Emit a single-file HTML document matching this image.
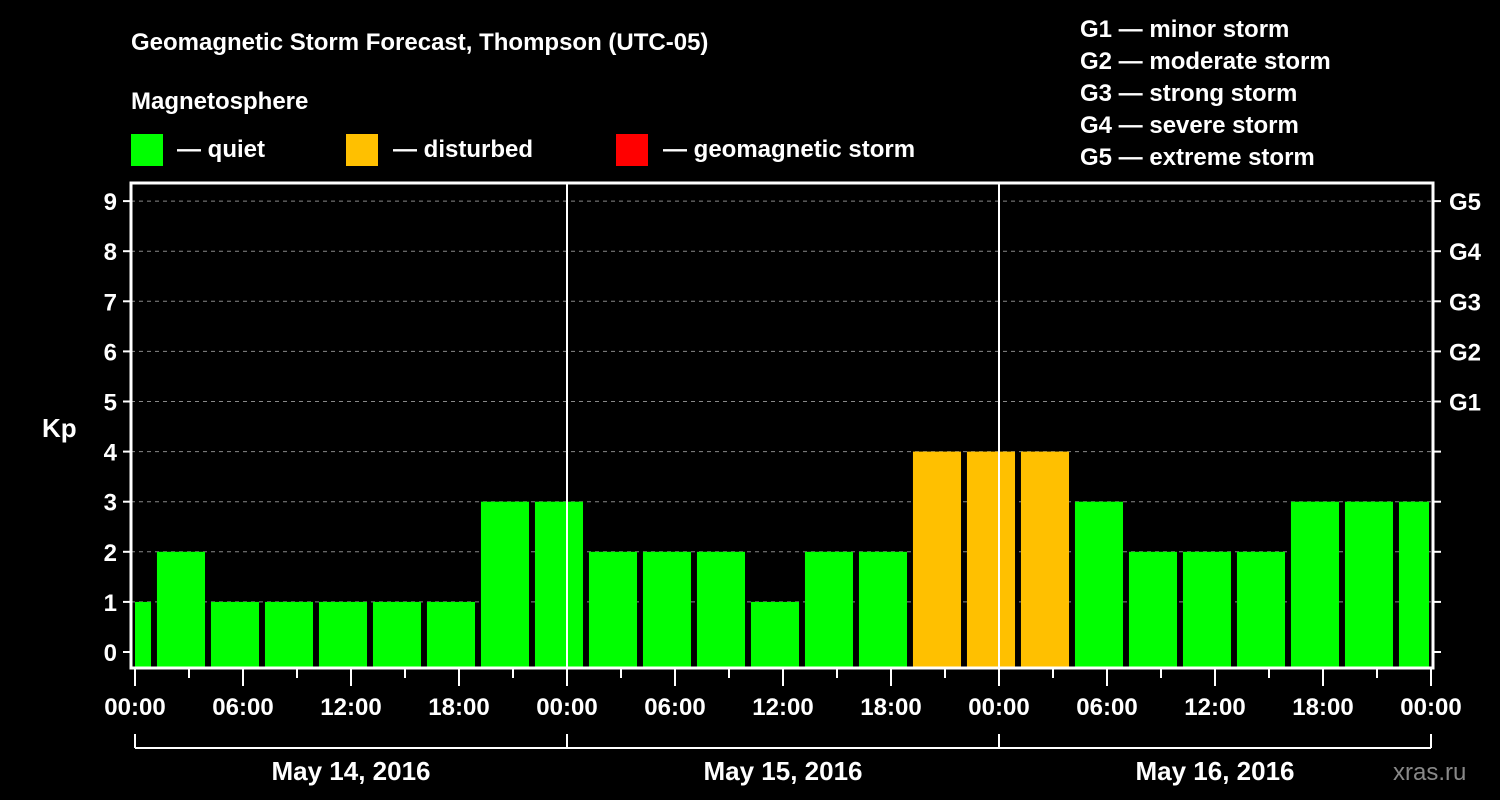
<!DOCTYPE html>
<html><head><meta charset="utf-8"><style>
body{margin:0;background:#000;}
svg{display:block;font-family:"Liberation Sans",sans-serif;font-weight:bold;}
</style></head><body>
<svg id="c" width="1500" height="800" viewBox="0 0 1500 800">
<rect width="1500" height="800" fill="#000"/>
<text x="131" y="50" fill="#fff" font-size="24">Geomagnetic Storm Forecast, Thompson (UTC-05)</text>
<text x="131" y="109" fill="#fff" font-size="24">Magnetosphere</text>
<g><rect x="131" y="134" width="32" height="32" fill="#00ff00"/><text x="177" y="157" fill="#fff" font-size="24">— quiet</text></g>
<g><rect x="346" y="134" width="32" height="32" fill="#ffc000"/><text x="393" y="157" fill="#fff" font-size="24">— disturbed</text></g>
<g><rect x="616" y="134" width="32" height="32" fill="#ff0000"/><text x="663" y="157" fill="#fff" font-size="24">— geomagnetic storm</text></g>
<g fill="#fff" font-size="24">
<text x="1080" y="37">G1 — minor storm</text>
<text x="1080" y="69">G2 — moderate storm</text>
<text x="1080" y="101">G3 — strong storm</text>
<text x="1080" y="133">G4 — severe storm</text>
<text x="1080" y="165">G5 — extreme storm</text>
</g>
<text x="42" y="437" fill="#fff" font-size="26">Kp</text>
<text x="1393" y="780" fill="#888" font-size="24" font-weight="normal">xras.ru</text>
<g id="plot"></g>
</svg>
<script>
const kpValues=[1,2,1,1,1,1,1,3,3,2,2,2,1,2,2,4,4,4,3,2,2,2,3,3,3];
const yTicks=[0,1,2,3,4,5,6,7,8,9];
const gLabels=["G1","G2","G3","G4","G5"];
const xTickLabels=["00:00","06:00","12:00","18:00","00:00","06:00","12:00","18:00","00:00","06:00","12:00","18:00","00:00"];
const dayLabels=["May 14, 2016","May 15, 2016","May 16, 2016"];
const NS="http://www.w3.org/2000/svg";
const g=document.getElementById('plot');
const L=131,R=1433,T=183,B=668,X0=135,PXH=18;
const x=h=>X0+h*PXH;
const y=k=>652-k*50.1;
function el(t,a,p){const e=document.createElementNS(NS,t);for(const k in a)e.setAttribute(k,a[k]);(p||g).appendChild(e);return e;}
yTicks.forEach(k=>{
 if(k>0){const gl=el('line',{x1:L,x2:R,y1:y(k),y2:y(k),stroke:'#888','stroke-dasharray':'4,4','stroke-width':1});
 
 }
 const t1=el('line',{x1:L-8,x2:L,y1:y(k),y2:y(k),stroke:'#fff','stroke-width':2});
 
 
 const t2=el('line',{x1:R,x2:R+8,y1:y(k),y2:y(k),stroke:'#fff','stroke-width':2});
 
 
 const tl=el('text',{x:L-14,y:y(k)+9,fill:'#fff','font-size':24,'text-anchor':'end'});tl.textContent=k;
 
 
});
gLabels.forEach((s,i)=>{const t=el('text',{x:R+16,y:y(5+i)+9,fill:'#fff','font-size':24});t.textContent=s;
 
 });
kpValues.forEach((v,i)=>{
 let h0=3*i-1.78,h1=h0+2.67;
 let x0=Math.max(x(h0),L+4),x1=Math.min(x(h1),R-4);
 const col=v>=5?'#ff0000':(v>=4?'#ffc000':'#00ff00');
 const r=el('rect',{x:x0,y:y(v),width:x1-x0,height:B-y(v),fill:col});
 
 
});
[1,2].forEach(d=>{const l=el('line',{x1:x(24*d),x2:x(24*d),y1:T,y2:B,stroke:'#fff','stroke-width':2});
 
 });
const fr=el('path',{d:`M${L} ${T}H${R}V${B}H${L}Z`,fill:'none',stroke:'#fff','stroke-width':3});


for(let h=0;h<=72;h+=3){
 const long=h%6==0;
 const t=el('line',{x1:x(h),x2:x(h),y1:B,y2:B+(long?18:10),stroke:'#fff','stroke-width':2});
 
 
}
xTickLabels.forEach((s,i)=>{const t=el('text',{x:x(i*6),y:715,fill:'#fff','font-size':24,'text-anchor':'middle'});t.textContent=s;
 
 });
const br=el('line',{x1:x(0),x2:x(72),y1:748,y2:748,stroke:'#fff','stroke-width':2});


[0,24,48,72].forEach(h=>{const t=el('line',{x1:x(h),x2:x(h),y1:734,y2:748,stroke:'#fff','stroke-width':2});
 
 });
dayLabels.forEach((s,i)=>{const t=el('text',{x:x(24*i+12),y:780,fill:'#fff','font-size':26,'text-anchor':'middle'});t.textContent=s;
 
 });
</script>
</body></html>
